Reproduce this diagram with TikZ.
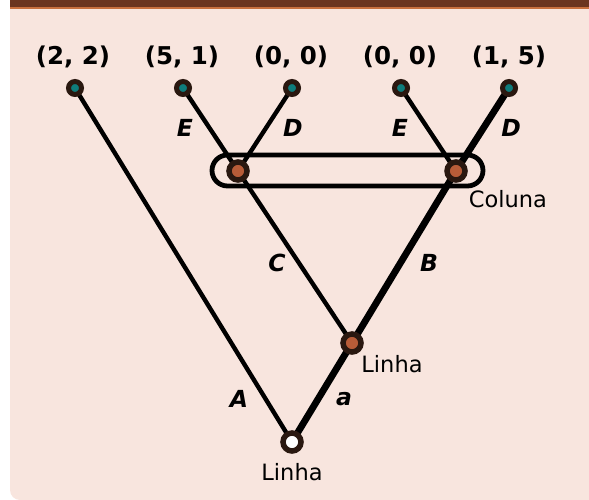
\documentclass[tikz,border=0pt]{standalone}
\usepackage{fontspec}
\setmainfont{DejaVu Sans}
\definecolor{bgpink}{HTML}{F8E5DE}
\definecolor{bandbrown}{HTML}{6B3520}
\definecolor{bandedge}{HTML}{C8703F}
\definecolor{nodeborder}{HTML}{2A1810}
\definecolor{leafteal}{HTML}{0E7C7B}
\definecolor{decorange}{HTML}{B85C38}
\pgfdeclarelayer{back}
\pgfdeclarelayer{edges}
\pgfsetlayers{back,edges,main}
\tikzset{
  leafnode/.style={circle, draw=nodeborder, line width=5pt, fill=leafteal, minimum size=13pt, inner sep=0pt},
  decnode/.style={circle, draw=nodeborder, line width=5.5pt, fill=decorange, minimum size=18pt, inner sep=0pt},
  rootnode/.style={circle, draw=nodeborder, line width=5.5pt, fill=white, minimum size=18pt, inner sep=0pt},
  thinedge/.style={draw=black, line width=4.4pt},
  thickedge/.style={draw=black, line width=6.8pt},
  payoff/.style={font=\fontsize{24.5}{28}\selectfont\bfseries},
  actlabel/.style={font=\fontsize{23.5}{27}\selectfont\bfseries\itshape},
  playerlabel/.style={font=\fontsize{22.5}{26}\selectfont},
  infoset/.style={draw=black, line width=4.8pt, rounded corners=15.5pt}
}
\begin{document}
\begin{tikzpicture}[x=1pt,y=-1pt]
\useasboundingbox (0,0) rectangle (589,500);
\begin{pgfonlayer}{back}
  \clip (0,0) rectangle (589,500);
  \fill[bgpink, rounded corners=10pt] (10,-20) rectangle (620,500);
  \fill[bandbrown] (10,0) rectangle (589,7);
  \fill[bandedge] (10,7) rectangle (589,9);
\end{pgfonlayer}

% nodes
\node[leafnode] (l1) at (75,88) {};
\node[leafnode] (l2) at (183,88) {};
\node[leafnode] (l3) at (292,88) {};
\node[leafnode] (l4) at (401,88) {};
\node[leafnode] (l5) at (509,88) {};
\node[decnode] (c1) at (238,171) {};
\node[decnode] (c2) at (456,171) {};
\node[decnode] (m) at (352,343) {};
\node[rootnode] (r) at (292,442) {};

% payoffs
\node[payoff] (p1) at (73,57) {(2, 2)};
\node[payoff] (p2) at (182,57) {(5, 1)};
\node[payoff] (p3) at (291,57) {(0, 0)};
\node[payoff] (p4) at (400,57) {(0, 0)};
\node[payoff] (p5) at (509,57) {(1, 5)};

\begin{pgfonlayer}{edges}
  \draw[thinedge] (r.center) -- (l1.center);
  \draw[thickedge] (r.center) -- (m.center);
  \draw[thinedge] (m.center) -- (c1.center);
  \draw[thickedge] (m.center) -- (c2.center);
  \draw[thinedge] (c1.center) -- (l2.center);
  \draw[thinedge] (c1.center) -- (l3.center);
  \draw[thinedge] (c2.center) -- (l4.center);
  \draw[thickedge] (c2.center) -- (l5.center);
  \draw[infoset] (212,155) rectangle (483,186);
\end{pgfonlayer}

% action labels
\node[actlabel] (aE1) at (185,128) {E};
\node[actlabel] (aD1) at (293,128) {D};
\node[actlabel] (aE2) at (400,128) {E};
\node[actlabel] (aD2) at (511,128) {D};
\node[actlabel] (aC) at (277,263) {C};
\node[actlabel] (aB) at (429,263) {B};
\node[actlabel] (aA) at (239,399) {A};
\node[actlabel] (aa) at (344,399) {a};

% player labels
\node[playerlabel] (col) at (508,199) {Coluna};
\node[playerlabel] (lin1) at (392,364) {Linha};
\node[playerlabel] (lin2) at (292,472) {Linha};
\end{tikzpicture}
\end{document}
